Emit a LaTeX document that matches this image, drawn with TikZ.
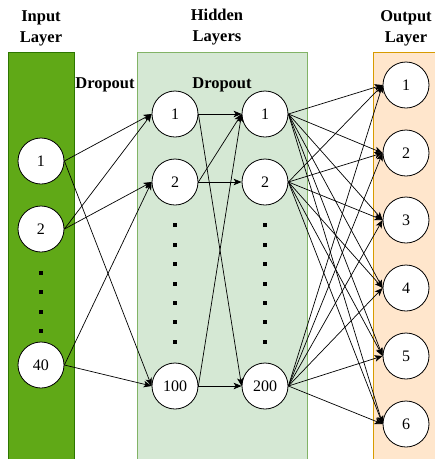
\documentclass[tikz,border=0pt]{standalone}
\usepackage{fontspec}
\setmainfont{Liberation Serif}
\usetikzlibrary{arrows.meta,positioning}
\definecolor{inputfill}{HTML}{60A917}
\definecolor{inputline}{HTML}{2D7600}
\definecolor{hiddenfill}{HTML}{D5E8D4}
\definecolor{hiddenline}{HTML}{82B366}
\definecolor{outputfill}{HTML}{FFE6CC}
\definecolor{outputline}{HTML}{D79B00}
\newcommand{\neuronedge}[2]{
  \draw[-{Stealth[length=8pt,width=6.5pt,inset=2pt]},line width=.7pt] (#1.east) -- (#2.west);
}
\tikzstyle{neuron}=[circle,draw,fill=white,minimum size=46pt,inner sep=0pt,line width=.8pt,font=\fontsize{16}{19}\selectfont]
\tikzstyle{dot}=[rectangle,fill=black,minimum size=4.2pt,inner sep=0pt]
\tikzstyle{layertitle}=[align=center,font=\fontsize{16.5}{21}\selectfont\bfseries]
\tikzset{y=-1pt}
\tikzset{x=1pt}

\begin{document}
\begin{tikzpicture}
  \useasboundingbox (0,0) rectangle (435,459);
  %% Layer bands
  \draw[fill=inputfill,draw=inputline,line width=.8pt] (8,52.7) rectangle (74,465);
  \draw[fill=hiddenfill,draw=hiddenline,line width=.8pt] (137,52.7) rectangle (307,465);
  \draw[fill=outputfill,draw=outputline,line width=.8pt] (373,52.7) rectangle (445,465);

  \draw (41,28.5) node[layertitle] (tin) {Input\\Layer};
  \draw (217,27) node[layertitle] (thid) {Hidden\\Layers};
  \draw (406,28.5) node[layertitle] (tout) {Output\\Layer};
  \draw (105,85) node[layertitle] (drop1) {Dropout};
  \draw (222,85) node[layertitle] (drop2) {Dropout};

  %% Input layer
  \draw (41,161) node[neuron] (I1) {1};
  \draw (41,229) node[neuron] (I2) {2};
  \draw (41,365) node[neuron] (I40) {40};
  \draw (41,273) node[dot] (Id1) {};
  \draw (41,292) node[dot] (Id2) {};
  \draw (41,312) node[dot] (Id3) {};
  \draw (41,331) node[dot] (Id4) {};

  %% Hidden layers
  \draw (175,114) node[neuron] (A1) {1};
  \draw (175,182) node[neuron] (A2) {2};
  \draw (175,386) node[neuron] (A100) {100};
  \draw (265,114) node[neuron] (B1) {1};
  \draw (265,182) node[neuron] (B2) {2};
  \draw (265,386) node[neuron] (B200) {200};

  \draw (175,225) node[dot] (Ad1) {};
  \draw (175,245) node[dot] (Ad2) {};
  \draw (175,264) node[dot] (Ad3) {};
  \draw (175,284) node[dot] (Ad4) {};
  \draw (175,303) node[dot] (Ad5) {};
  \draw (175,322) node[dot] (Ad6) {};
  \draw (175,342) node[dot] (Ad7) {};
  \draw (265,225) node[dot] (Bd1) {};
  \draw (265,245) node[dot] (Bd2) {};
  \draw (265,264) node[dot] (Bd3) {};
  \draw (265,284) node[dot] (Bd4) {};
  \draw (265,303) node[dot] (Bd5) {};
  \draw (265,322) node[dot] (Bd6) {};
  \draw (265,342) node[dot] (Bd7) {};

  %% Output layer
  \draw (406,85) node[neuron] (O1) {1};
  \draw (406,153) node[neuron] (O2) {2};
  \draw (406,220) node[neuron] (O3) {3};
  \draw (406,288) node[neuron] (O4) {4};
  \draw (406,356) node[neuron] (O5) {5};
  \draw (406,424) node[neuron] (O6) {6};

  %% Input -> hidden 1
  \neuronedge{I1}{A1}
  \neuronedge{I1}{A100}
  \neuronedge{I2}{A1}
  \neuronedge{I2}{A2}
  \neuronedge{I40}{A2}
  \neuronedge{I40}{A100}

  %% Hidden 1 -> hidden 2
  \neuronedge{A1}{B1}
  \neuronedge{A1}{B200}
  \neuronedge{A2}{B1}
  \neuronedge{A2}{B2}
  \neuronedge{A100}{B1}
  \neuronedge{A100}{B200}

  %% Hidden 2 -> output
  \neuronedge{B1}{O1}
  \neuronedge{B1}{O2}
  \neuronedge{B1}{O3}
  \neuronedge{B1}{O4}
  \neuronedge{B1}{O5}
  \neuronedge{B1}{O6}
  \neuronedge{B2}{O1}
  \neuronedge{B2}{O2}
  \neuronedge{B2}{O3}
  \neuronedge{B2}{O4}
  \neuronedge{B2}{O5}
  \neuronedge{B2}{O6}
  \neuronedge{B200}{O1}
  \neuronedge{B200}{O2}
  \neuronedge{B200}{O3}
  \neuronedge{B200}{O4}
  \neuronedge{B200}{O5}
  \neuronedge{B200}{O6}
\end{tikzpicture}
\end{document}
